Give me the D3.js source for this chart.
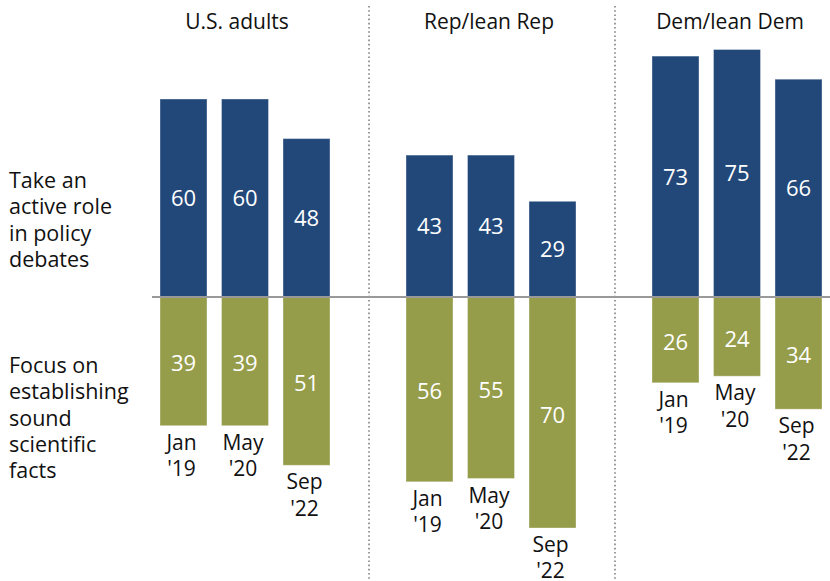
<!DOCTYPE html>
<html>
<head>
<meta charset="utf-8">
<script src="https://cdn.jsdelivr.net/npm/d3@7"></script>
<style>
  html, body { margin: 0; padding: 0; background: #fff; }
  svg text { font-family: "Open Sans", "Liberation Sans", Arial, sans-serif; }
</style>
</head>
<body>
<svg id="chart" width="830" height="581"></svg>
<script>
// Groups, survey waves and the two answer shares (percent)
const groups = ["U.S. adults", "Rep/lean Rep", "Dem/lean Dem"];
const waves = ["Jan '19", "May '20", "Sep '22"];
const activeRole = [
  [60, 60, 48],
  [43, 43, 29],
  [73, 75, 66]
];
const soundFacts = [
  [39, 39, 51],
  [56, 55, 70],
  [26, 24, 34]
];
const rowLabels = [
  ["Take an", "active role", "in policy", "debates"],
  ["Focus on", "establishing", "sound", "scientific", "facts"]
];

const blue = "#22487a";
const olive = "#959c4a";

const svg = d3.select("#chart");

const x0 = d3.scaleBand().domain(groups).range([148, 886]);
const x1 = d3.scaleBand().domain(waves).range([12, 182]).paddingInner(0.236).paddingOuter(0);
const y = d3.scaleLinear().domain([-75, 75]).range([544.5, 49.5]);

// Dotted separators between groups
svg.selectAll("line.sep")
  .data(groups.slice(1))
  .join("line")
  .attr("class", "sep")
  .attr("x1", d => x0(d) - 25).attr("x2", d => x0(d) - 25)
  .attr("y1", 6).attr("y2", 581)
  .attr("stroke", "#9b9b9b")
  .attr("stroke-width", 2)
  .attr("stroke-dasharray", "1.6,2.6");

// Group titles
const titleShift = [-9, -3, -8];
svg.selectAll("text.title")
  .data(groups)
  .join("text")
  .attr("class", "title")
  .attr("x", (d, i) => x0(d) + x0.bandwidth() / 2 - 25 + titleShift[i])
  .attr("y", 29)
  .attr("text-anchor", "middle")
  .attr("font-size", 21)
  .attr("fill", "#111")
  .text(d => d);

// Row labels on the left
rowLabels.forEach((lines, i) => {
  const t = svg.append("text")
    .attr("x", 9)
    .attr("y", i === 0 ? 188 : 373)
    .attr("font-size", 21.5)
    .attr("fill", "#111");
  lines.forEach((ln, j) => {
    t.append("tspan").attr("x", 9).attr("dy", j === 0 ? 0 : 26.3).text(ln);
  });
});

const rows = [];
groups.forEach((g, gi) => {
  waves.forEach((w, wi) => {
    rows.push({ g, w, up: activeRole[gi][wi], down: soundFacts[gi][wi] });
  });
});

const bx = d => x0(d.g) + x1(d.w);
const bw = x1.bandwidth();

// Upper bars: take an active role
svg.selectAll("rect.up")
  .data(rows)
  .join("rect")
  .attr("class", "up")
  .attr("x", bx)
  .attr("y", d => y(d.up))
  .attr("width", bw)
  .attr("height", d => y(0) - y(d.up))
  .attr("fill", blue)
  .attr("stroke", "rgba(255,255,255,0.35)")
  .attr("stroke-width", 1);

// Lower bars: focus on sound facts
svg.selectAll("rect.down")
  .data(rows)
  .join("rect")
  .attr("class", "down")
  .attr("x", bx)
  .attr("y", y(0))
  .attr("width", bw)
  .attr("height", d => y(-d.down) - y(0))
  .attr("fill", olive)
  .attr("stroke", "rgba(255,255,255,0.35)")
  .attr("stroke-width", 1);

// Zero line
svg.append("line")
  .attr("x1", 152).attr("x2", 830)
  .attr("y1", y(0)).attr("y2", y(0))
  .attr("stroke", "#999")
  .attr("stroke-width", 2.2);

// Value labels
svg.selectAll("text.vup")
  .data(rows)
  .join("text")
  .attr("class", "vup")
  .attr("x", d => bx(d) + bw / 2)
  .attr("y", d => (y(d.up) + y(0)) / 2 + 8)
  .attr("text-anchor", "middle")
  .attr("font-size", 22)
  .attr("fill", "#fff")
  .text(d => d.up);

svg.selectAll("text.vdown")
  .data(rows)
  .join("text")
  .attr("class", "vdown")
  .attr("x", d => bx(d) + bw / 2)
  .attr("y", d => (y(-d.down) + y(0)) / 2 + 10)
  .attr("text-anchor", "middle")
  .attr("font-size", 22)
  .attr("fill", "#fff")
  .text(d => d.down);

// Wave labels under the lower bars
rows.forEach(d => {
  const [mon, yr] = d.w.split(" ");
  const cx = bx(d) + bw / 2 - 2;
  const t = svg.append("text")
    .attr("x", cx)
    .attr("y", y(-d.down) + 24)
    .attr("text-anchor", "middle")
    .attr("font-size", 21)
    .attr("fill", "#111");
  t.append("tspan").attr("x", cx).attr("dy", 0).text(mon);
  t.append("tspan").attr("x", cx).attr("dy", 26.3).text(yr);
});
</script>
</body>
</html>
